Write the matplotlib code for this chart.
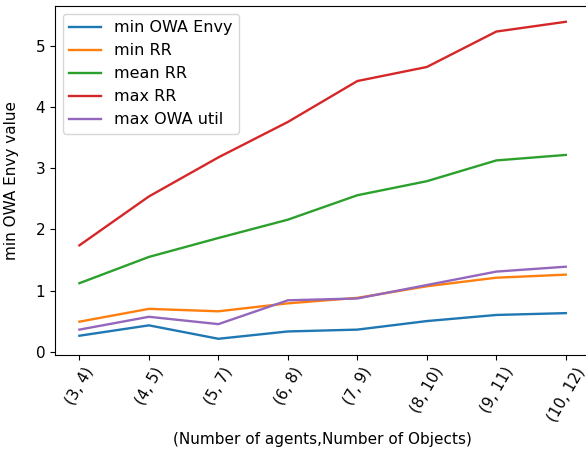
import matplotlib
matplotlib.use("Agg")
import matplotlib.pyplot as plt

# x categories: (agents, objects)
labels = ["(3, 4)", "(4, 5)", "(5, 7)", "(6, 8)", "(7, 9)", "(8, 10)", "(9, 11)", "(10, 12)"]

min_owa_envy = [0.26, 0.43, 0.21, 0.33, 0.36, 0.50, 0.60, 0.63]
min_rr       = [0.49, 0.70, 0.66, 0.79, 0.88, 1.07, 1.21, 1.26]
mean_rr      = [1.12, 1.55, 1.86, 2.16, 2.56, 2.79, 3.13, 3.22]
max_rr       = [1.74, 2.54, 3.18, 3.76, 4.43, 4.66, 5.24, 5.40]
max_owa_util = [0.36, 0.57, 0.45, 0.84, 0.87, 1.09, 1.31, 1.39]

plt.rcParams["font.size"] = 11
plt.rcParams["lines.linewidth"] = 1.7

fig = plt.figure(figsize=(5.86, 4.57), dpi=100)
ax = fig.add_axes([0.094, 0.224, 0.913, 0.763])

x = range(len(labels))
ax.plot(x, min_owa_envy, label="min OWA Envy")
ax.plot(x, min_rr, label="min RR")
ax.plot(x, mean_rr, label="mean RR")
ax.plot(x, max_rr, label="max RR")
ax.plot(x, max_owa_util, label="max OWA util")

ax.set_xticks(list(x))
ax.set_xticklabels(labels, rotation=60)
ax.set_xlabel("(Number of agents,Number of Objects)", labelpad=6)
ax.set_ylabel("min OWA Envy value", labelpad=12)
ax.legend(loc="upper left", fontsize=11.5)

fig.savefig("out.png", dpi=100)
